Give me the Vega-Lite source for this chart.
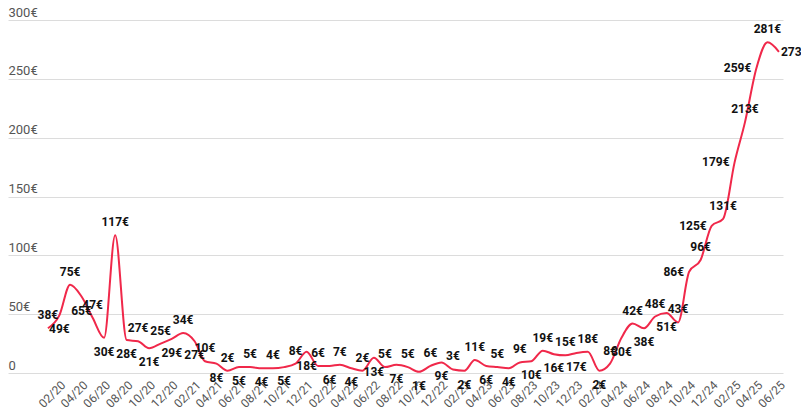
{
  "$schema": "https://vega.github.io/schema/vega-lite/v6.json",
  "width": 775,
  "height": 353,
  "autosize": {"type": "none"},
  "padding": {"left": 8, "top": 20, "right": 18, "bottom": 46},
  "background": "white",
  "config": {"view": {"stroke": null}, "font": "Roboto"},
  "data": {"values": [
    {"date": "2020-01-01", "value": 38}, {"date": "2020-02-01", "value": 49}, {"date": "2020-03-01", "value": 75},
    {"date": "2020-04-01", "value": 65}, {"date": "2020-05-01", "value": 47}, {"date": "2020-06-01", "value": 30},
    {"date": "2020-07-01", "value": 117}, {"date": "2020-08-01", "value": 28}, {"date": "2020-09-01", "value": 27},
    {"date": "2020-10-01", "value": 21}, {"date": "2020-11-01", "value": 25}, {"date": "2020-12-01", "value": 29},
    {"date": "2021-01-01", "value": 34}, {"date": "2021-02-01", "value": 27}, {"date": "2021-03-01", "value": 10},
    {"date": "2021-04-01", "value": 8}, {"date": "2021-05-01", "value": 2}, {"date": "2021-06-01", "value": 5},
    {"date": "2021-07-01", "value": 5}, {"date": "2021-08-01", "value": 4}, {"date": "2021-09-01", "value": 4},
    {"date": "2021-10-01", "value": 5}, {"date": "2021-11-01", "value": 8}, {"date": "2021-12-01", "value": 18},
    {"date": "2022-01-01", "value": 6}, {"date": "2022-02-01", "value": 6}, {"date": "2022-03-01", "value": 7},
    {"date": "2022-04-01", "value": 4}, {"date": "2022-05-01", "value": 2}, {"date": "2022-06-01", "value": 13},
    {"date": "2022-07-01", "value": 5}, {"date": "2022-08-01", "value": 7}, {"date": "2022-09-01", "value": 5},
    {"date": "2022-10-01", "value": 1}, {"date": "2022-11-01", "value": 6}, {"date": "2022-12-01", "value": 9},
    {"date": "2023-01-01", "value": 3}, {"date": "2023-02-01", "value": 2}, {"date": "2023-03-01", "value": 11},
    {"date": "2023-04-01", "value": 6}, {"date": "2023-05-01", "value": 5}, {"date": "2023-06-01", "value": 4},
    {"date": "2023-07-01", "value": 9}, {"date": "2023-08-01", "value": 10}, {"date": "2023-09-01", "value": 19},
    {"date": "2023-10-01", "value": 16}, {"date": "2023-11-01", "value": 15}, {"date": "2023-12-01", "value": 17},
    {"date": "2024-01-01", "value": 18}, {"date": "2024-02-01", "value": 2}, {"date": "2024-03-01", "value": 8},
    {"date": "2024-04-01", "value": 30}, {"date": "2024-05-01", "value": 42}, {"date": "2024-06-01", "value": 38},
    {"date": "2024-07-01", "value": 48}, {"date": "2024-08-01", "value": 51}, {"date": "2024-09-01", "value": 43},
    {"date": "2024-10-01", "value": 86}, {"date": "2024-11-01", "value": 96}, {"date": "2024-12-01", "value": 125},
    {"date": "2025-01-01", "value": 131}, {"date": "2025-02-01", "value": 179}, {"date": "2025-03-01", "value": 213},
    {"date": "2025-04-01", "value": 259}, {"date": "2025-05-01", "value": 281}, {"date": "2025-06-01", "value": 273}
  ]},
  "transform": [
    {"window": [{"op": "row_number", "as": "idx"}]},
    {"joinaggregate": [{"op": "count", "as": "n"}]},
    {"calculate": "datum.value + '€'", "as": "label"}
  ],
  "encoding": {
    "x": {
      "field": "date", "type": "temporal",
      "scale": {"type": "utc",
        "domain": [{"year": 2019, "month": 9, "date": 15, "utc": true}, {"year": 2025, "month": 6, "date": 12, "utc": true}]},
      "axis": {
        "title": null, "labelExpr": "utcFormat(datum.value, '%m/%y')", "labelAngle": -45,
        "domain": false, "ticks": false, "grid": false, "labelPadding": 6,
        "labelColor": "#555", "labelFontSize": 12, "labelFont": "Roboto",
        "labelOverlap": false, "labelFlush": false,
        "values": [
          {"year": 2020, "month": 2, "date": 1, "utc": true}, {"year": 2020, "month": 4, "date": 1, "utc": true},
          {"year": 2020, "month": 6, "date": 1, "utc": true}, {"year": 2020, "month": 8, "date": 1, "utc": true},
          {"year": 2020, "month": 10, "date": 1, "utc": true}, {"year": 2020, "month": 12, "date": 1, "utc": true},
          {"year": 2021, "month": 2, "date": 1, "utc": true}, {"year": 2021, "month": 4, "date": 1, "utc": true},
          {"year": 2021, "month": 6, "date": 1, "utc": true}, {"year": 2021, "month": 8, "date": 1, "utc": true},
          {"year": 2021, "month": 10, "date": 1, "utc": true}, {"year": 2021, "month": 12, "date": 1, "utc": true},
          {"year": 2022, "month": 2, "date": 1, "utc": true}, {"year": 2022, "month": 4, "date": 1, "utc": true},
          {"year": 2022, "month": 6, "date": 1, "utc": true}, {"year": 2022, "month": 8, "date": 1, "utc": true},
          {"year": 2022, "month": 10, "date": 1, "utc": true}, {"year": 2022, "month": 12, "date": 1, "utc": true},
          {"year": 2023, "month": 2, "date": 1, "utc": true}, {"year": 2023, "month": 4, "date": 1, "utc": true},
          {"year": 2023, "month": 6, "date": 1, "utc": true}, {"year": 2023, "month": 8, "date": 1, "utc": true},
          {"year": 2023, "month": 10, "date": 1, "utc": true}, {"year": 2023, "month": 12, "date": 1, "utc": true},
          {"year": 2024, "month": 2, "date": 1, "utc": true}, {"year": 2024, "month": 4, "date": 1, "utc": true},
          {"year": 2024, "month": 6, "date": 1, "utc": true}, {"year": 2024, "month": 8, "date": 1, "utc": true},
          {"year": 2024, "month": 10, "date": 1, "utc": true}, {"year": 2024, "month": 12, "date": 1, "utc": true},
          {"year": 2025, "month": 2, "date": 1, "utc": true}, {"year": 2025, "month": 4, "date": 1, "utc": true},
          {"year": 2025, "month": 6, "date": 1, "utc": true}
        ]
      }
    },
    "y": {
      "field": "value", "type": "quantitative",
      "scale": {"domain": [0, 300], "nice": false},
      "axis": {
        "title": null, "values": [0, 50, 100, 150, 200, 250, 300],
        "labelExpr": "datum.value == 0 ? '0' : datum.value + '€'",
        "domain": false, "ticks": false, "tickSize": 0, "labelPadding": 0,
        "labelAlign": "left", "labelBaseline": "alphabetic", "labelOffset": -4,
        "labelColor": "#555", "labelFontSize": 13, "labelFont": "Roboto",
        "gridColor": "#dcdcdc", "gridWidth": 1
      }
    }
  },
  "layer": [
    {"mark": {"type": "line", "interpolate": "monotone", "color": "#f0284a", "strokeWidth": 2, "clip": true}},
    {
      "transform": [{"filter": "datum.idx % 2 == 1"}],
      "mark": {"type": "text", "dy": -13, "font": "Roboto", "fontWeight": "bold", "fontSize": 12, "color": "#111"},
      "encoding": {"text": {"field": "label", "type": "nominal"}}
    },
    {
      "transform": [{"filter": "datum.idx % 2 == 0 && datum.value < 80"}],
      "mark": {"type": "text", "dy": 14, "font": "Roboto", "fontWeight": "bold", "fontSize": 12, "color": "#111"},
      "encoding": {"text": {"field": "label", "type": "nominal"}}
    },
    {
      "transform": [{"filter": "datum.idx % 2 == 0 && datum.value >= 80 && datum.idx < datum.n"}],
      "mark": {"type": "text", "align": "right", "dx": -5, "font": "Roboto", "fontWeight": "bold", "fontSize": 12, "color": "#111"},
      "encoding": {"text": {"field": "label", "type": "nominal"}}
    },
    {
      "transform": [{"filter": "datum.idx == datum.n"}],
      "mark": {"type": "text", "align": "left", "dx": 2, "font": "Roboto", "fontWeight": "bold", "fontSize": 12, "color": "#111"},
      "encoding": {"text": {"field": "label", "type": "nominal"}}
    }
  ]
}
